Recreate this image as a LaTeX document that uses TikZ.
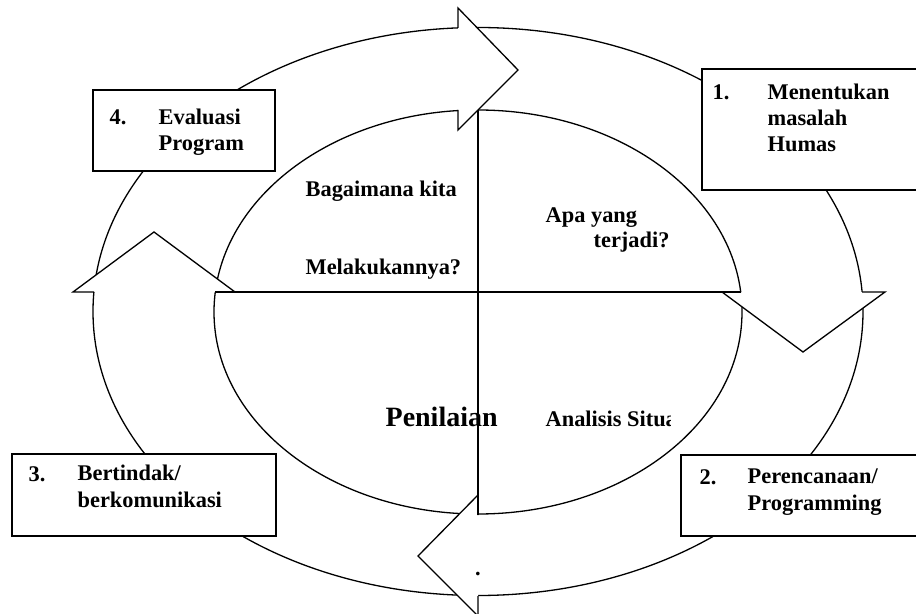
\documentclass[tikz,border=0pt]{standalone}
\usepackage{fontspec}
\setmainfont{Liberation Serif}
\begin{document}
\begin{tikzpicture}[x=0.536pt,y=-0.536pt,line width=0.7pt,
		box/.style={draw,fill=white,line width=1.1pt},
		lbl/.style={font=\bfseries\fontsize{12}{14}\selectfont,inner sep=0pt,anchor=base west,align=left},
		big/.style={font=\bfseries\fontsize{15}{18}\selectfont,inner sep=0pt,anchor=base west}]
	\clip (0,0) rectangle (916,614);
	% ring and the inner ellipse
	\draw (478,311.5) ellipse [x radius=385, y radius=284];
	\draw (478,312) ellipse [x radius=264, y radius=202];
	% arrow heads
	\fill[white] (458,8) -- (518,70) -- (458,130) -- cycle;
	\draw (458,28) -- (458,8) -- (518,70) -- (458,130) -- (458,110);
	\fill[white] (722,292) -- (803,352) -- (885,292) -- cycle;
	\draw (741,292) -- (722,292) -- (803,352) -- (885,292) -- (862,292);
	\fill[white] (478,495) -- (418,556) -- (478,616) -- cycle;
	\draw (478,515) -- (478,495) -- (418,556) -- (478,616) -- (478,596);
	\fill[white] (73,292) -- (154,232) -- (235,292) -- cycle;
	\draw (94,292) -- (73,292) -- (154,232) -- (235,292) -- (215,292);
	% quadrants
	\draw (478,110) -- (478,515);
	\draw (215,292) -- (741,292);
	\node[lbl] (bagaimana) at (305,197) {Bagaimana kita};
	\node[lbl] (melakukan) at (305,275) {Melakukannya?};
	\node[lbl] (apa) at (545,223) {Apa yang};
	\node[lbl] (terjadi) at (593,248) {terjadi?};
	\node[big] (penilaian) at (385,427) {Penilaian};
	\begin{scope}
		\clip (540,400) rectangle (670,440);
		\node[lbl] (analisis) at (545,427) {Analisis Situasi};
	\end{scope}
	\node[lbl,anchor=center] (titik) at (478,574) {.};
	% boxes
	\draw[box] (702,69) rectangle (930,190);
	\node[lbl] (no1) at (712,100) {1.};
	\node[lbl] (menentukan) at (767,152) {Menentukan\\masalah\\Humas};
	\draw[box] (681,455) rectangle (930,536);
	\node[lbl] (no2) at (699,484) {2.};
	\node[lbl] (perencanaan) at (747,510) {Perencanaan/\\Programming};
	\draw[box] (12,454) rectangle (276,536);
	\node[lbl] (no3) at (28,481) {3.};
	\node[lbl] (bertindak) at (77,507) {Bertindak/\\berkomunikasi};
	\draw[box] (93,90) rectangle (275,171);
	\node[lbl] (no4) at (109,125) {4.};
	\node[lbl] (evaluasi) at (158,151) {Evaluasi\\Program};
\end{tikzpicture}
\end{document}
